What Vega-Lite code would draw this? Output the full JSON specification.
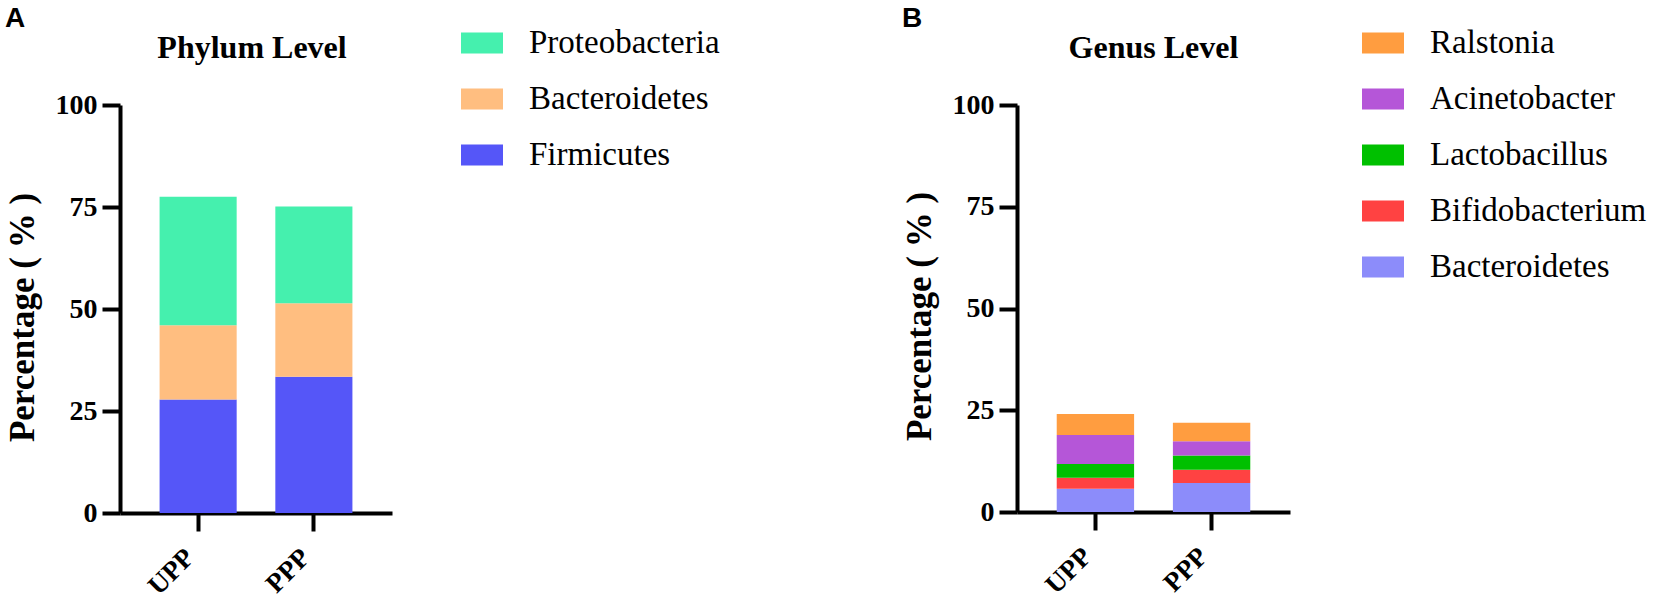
{
  "$schema": "https://vega.github.io/schema/vega-lite/v6.json",
  "padding": {"left": 5, "top": 5, "right": 5, "bottom": 5},
  "config": {
    "view": {"stroke": null},
    "font": "Liberation Serif",
    "axis": {
      "domainColor": "black", "domainWidth": 4, "tickColor": "black", "tickWidth": 4, "tickSize": 18,
      "labelFont": "Liberation Serif", "labelFontSize": 28, "labelFontWeight": "bold", "labelColor": "black",
      "titleFont": "Liberation Serif", "titleFontSize": 35, "titleFontWeight": "bold", "titleColor": "black",
      "grid": false
    },
    "legend": {
      "orient": "none", "legendX": 341, "legendY": -83, "title": null,
      "symbolType": "M-1,-0.5H1V0.5H-1Z", "symbolSize": 1764, "symbolStrokeWidth": 0, "symbolOpacity": 1,
      "labelFont": "Liberation Serif", "labelFontSize": 33, "labelColor": "black", "labelOffset": 26,
      "rowPadding": 18, "labelLimit": 400
    }
  },
  "resolve": {"scale": {"color": "independent"}},
  "spacing": 182,
  "hconcat": [
    {
      "title": {"text": "A", "anchor": "start", "font": "Liberation Sans", "fontSize": 28, "fontWeight": "bold", "color": "black", "dy": 15},
      "vconcat": [
        {
          "title": {"text": "Phylum Level", "frame": "group", "anchor": "middle", "font": "Liberation Serif", "fontSize": 32, "fontWeight": "bold", "color": "black", "dx": -4, "dy": -22},
          "width": 272,
          "height": 408,
          "data": {"values": [
            {"group": "UPP", "taxon": "Firmicutes", "rank": 1, "value": 27.8},
            {"group": "UPP", "taxon": "Bacteroidetes", "rank": 2, "value": 18.2},
            {"group": "UPP", "taxon": "Proteobacteria", "rank": 3, "value": 31.5},
            {"group": "PPP", "taxon": "Firmicutes", "rank": 1, "value": 33.4},
            {"group": "PPP", "taxon": "Bacteroidetes", "rank": 2, "value": 18.0},
            {"group": "PPP", "taxon": "Proteobacteria", "rank": 3, "value": 23.7}
          ]},
          "mark": {"type": "bar"},
          "encoding": {
            "x": {"field": "group", "type": "nominal", "sort": ["UPP", "PPP"], "title": null,
              "scale": {"paddingInner": 0.334, "paddingOuter": 0.342},
              "axis": {"labelAngle": -45, "labelAlign": "right", "labelBaseline": "middle", "labelPadding": 22, "labelOffset": -8, "labelFontSize": 27}},
            "y": {"field": "value", "type": "quantitative", "stack": "zero",
              "scale": {"domain": [0, 100], "nice": false},
              "axis": {"values": [0, 25, 50, 75, 100], "title": "Percentage ( % )", "labelPadding": 5,
                "titleX": -98, "titleY": 212, "titleAngle": -90, "titleBaseline": "middle", "titleAlign": "center"}},
            "color": {"field": "taxon", "type": "nominal",
              "scale": {"domain": ["Proteobacteria", "Bacteroidetes", "Firmicutes"], "range": ["#45F0AE", "#FFBE80", "#5556F8"]}},
            "order": {"field": "rank", "type": "quantitative"}
          }
        }
      ]
    },
    {
      "title": {"text": "B", "anchor": "start", "font": "Liberation Sans", "fontSize": 28, "fontWeight": "bold", "color": "black", "dy": 15},
      "vconcat": [
        {
          "title": {"text": "Genus Level", "frame": "group", "anchor": "middle", "font": "Liberation Serif", "fontSize": 32, "fontWeight": "bold", "color": "black", "dy": -22},
          "width": 273,
          "height": 407,
          "data": {"values": [
            {"group": "UPP", "taxon": "Bacteroidetes", "rank": 1, "value": 5.7},
            {"group": "UPP", "taxon": "Bifidobacterium", "rank": 2, "value": 2.7},
            {"group": "UPP", "taxon": "Lactobacillus", "rank": 3, "value": 3.4},
            {"group": "UPP", "taxon": "Acinetobacter", "rank": 4, "value": 7.1},
            {"group": "UPP", "taxon": "Ralstonia", "rank": 5, "value": 5.2},
            {"group": "PPP", "taxon": "Bacteroidetes", "rank": 1, "value": 7.1},
            {"group": "PPP", "taxon": "Bifidobacterium", "rank": 2, "value": 3.3},
            {"group": "PPP", "taxon": "Lactobacillus", "rank": 3, "value": 3.5},
            {"group": "PPP", "taxon": "Acinetobacter", "rank": 4, "value": 3.5},
            {"group": "PPP", "taxon": "Ralstonia", "rank": 5, "value": 4.5}
          ]},
          "mark": {"type": "bar"},
          "encoding": {
            "x": {"field": "group", "type": "nominal", "sort": ["UPP", "PPP"], "title": null,
              "scale": {"paddingInner": 0.334, "paddingOuter": 0.342},
              "axis": {"labelAngle": -45, "labelAlign": "right", "labelBaseline": "middle", "labelPadding": 22, "labelOffset": -8, "labelFontSize": 27}},
            "y": {"field": "value", "type": "quantitative", "stack": "zero",
              "scale": {"domain": [0, 100], "nice": false},
              "axis": {"values": [0, 25, 50, 75, 100], "title": "Percentage ( % )", "labelPadding": 5,
                "titleX": -98, "titleY": 211, "titleAngle": -90, "titleBaseline": "middle", "titleAlign": "center"}},
            "color": {"field": "taxon", "type": "nominal",
              "scale": {"domain": ["Ralstonia", "Acinetobacter", "Lactobacillus", "Bifidobacterium", "Bacteroidetes"],
                "range": ["#FF9D40", "#B556D8", "#00C000", "#FF4242", "#8C8CFA"]},
              "legend": {"legendX": 345}},
            "order": {"field": "rank", "type": "quantitative"}
          }
        }
      ]
    }
  ]
}
